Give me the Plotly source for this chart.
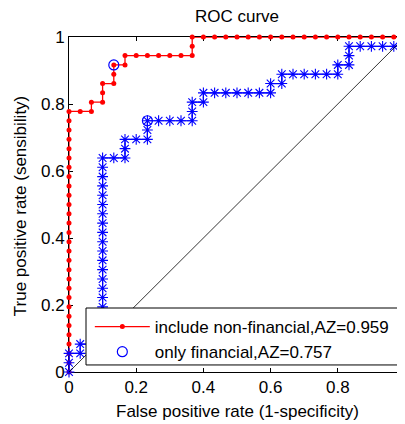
import plotly.graph_objects as go

# Sample sizes (negatives / positives)
N_NEG = 30
N_POS = 36

# ROC "include non-financial" : counts of false positives / true positives per threshold
nf_fp = [0]*29 + [1, 2, 2, 3, 3, 3, 4, 4, 4, 5, 5, 6, 7, 8, 9, 10, 11, 11, 11,
                  12, 13, 14, 15, 16, 17, 18, 19, 20, 21, 22, 23, 24, 25, 26, 27, 28, 29, 30]
nf_tp = [0, 1, 2, 3, 4, 5, 6, 7, 8, 9, 10, 11, 12, 13, 14, 15, 16, 17, 18, 19, 20,
         21, 22, 23, 24, 25, 26, 27, 28,
         28, 28, 29, 29, 30, 31, 31, 32, 33, 33, 34, 34, 34, 34, 34, 34, 34, 35, 36,
         36, 36, 36, 36, 36, 36, 36, 36, 36, 36, 36, 36, 36, 36, 36, 36, 36, 36, 36]

# ROC "only financial"
f_fp = [0, 0, 0, 1, 1, 2,
        3, 3, 3, 3, 3, 3, 3, 3, 3, 3, 3, 3, 3, 3, 3, 3, 3, 3, 3, 3, 3,
        4, 5, 5, 5, 6, 7, 7, 7, 8, 9, 10, 11, 11, 11, 12, 12,
        13, 14, 15, 16, 17, 18, 18, 19, 19, 20, 21, 22, 23, 24, 24, 25, 25, 25,
        26, 27, 28, 29, 30, 30]
f_tp = [0, 1, 2, 2, 3, 3,
        3, 4, 5, 6, 7, 8, 9, 10, 11, 12, 13, 14, 15, 16, 17, 18, 19, 20, 21, 22, 23,
        23, 23, 24, 25, 25, 25, 26, 27, 27, 27, 27, 27, 28, 29, 29, 30,
        30, 30, 30, 30, 30, 30, 31, 31, 32, 32, 32, 32, 32, 32, 33, 33, 34, 35,
        35, 35, 35, 35, 35, 36]

# Optimal operating points (circled)
opt_fp = [4, 7]
opt_tp = [33, 27]

diag_x = [0, 1]
diag_y = [0, 1]

title_text = "ROC curve"
x_title = "False positive rate (1-specificity)"
y_title = "True positive rate (sensibility)"
name_nf = "include non-financial,AZ=0.959"
name_f = "only financial,AZ=0.757"
tick_vals = [0, 0.2, 0.4, 0.6, 0.8, 1]
tick_text = ["0", "0.2", "0.4", "0.6", "0.8", "1"]

FONT = "Arial, Liberation Sans, sans-serif"

# the page body has an 8px margin: size the figure so it lands where the reference is
W, H = 397, 416

fig = go.Figure()

fig.add_trace(go.Scatter(
    x=[v / N_NEG for v in nf_fp], y=[v / N_POS for v in nf_tp],
    mode="lines+markers", name=name_nf, legendrank=1,
    line=dict(color="#ff0000", width=1.3),
    marker=dict(color="#ff0000", size=5, symbol="circle"),
    cliponaxis=False))

fig.add_trace(go.Scatter(
    x=[v / N_NEG for v in f_fp], y=[v / N_POS for v in f_tp],
    mode="lines+markers", showlegend=False,
    line=dict(color="#0000ff", width=1.2),
    marker=dict(color="#0000ff", size=9, symbol="asterisk-open",
                line=dict(color="#0000ff", width=1.1)),
    cliponaxis=False))

fig.add_trace(go.Scatter(
    x=diag_x, y=diag_y, mode="lines", showlegend=False,
    line=dict(color="#000000", width=0.8)))

fig.add_trace(go.Scatter(
    x=[v / N_NEG for v in opt_fp], y=[v / N_POS for v in opt_tp],
    mode="markers", name=name_f, legendrank=2,
    marker=dict(color="#0000ff", size=10, symbol="circle-open",
                line=dict(color="#0000ff", width=1.2)),
    cliponaxis=False))

# legend box (extends past the right edge as in the reference)
fig.add_shape(type="rect", xref="paper", yref="paper",
              x0=0.0506, x1=1.05, y0=0.021, y1=0.191,
              line=dict(color="#000000", width=1), fillcolor="white", layer="above")

fig.update_layout(
    width=W, height=H,
    margin=dict(l=61, r=0, t=29, b=52, autoexpand=False),
    paper_bgcolor="white", plot_bgcolor="white",
    font=dict(family=FONT, size=17, color="#000000"),
    title=dict(text=title_text, x=229 / W, xanchor="center", y=1 - 8 / H,
               yanchor="middle", font=dict(size=17, family=FONT, color="#000000")),
    showlegend=True,
    legend=dict(x=0.062, y=0.188, xanchor="left", yanchor="top",
                bgcolor="rgba(0,0,0,0)", borderwidth=0,
                font=dict(size=17, family=FONT, color="#000000"),
                itemwidth=55, tracegroupgap=4, traceorder="grouped"),
)

fig.update_xaxes(range=[0, 1], tickvals=tick_vals, ticktext=tick_text, automargin=False,
                 showline=True, linecolor="#000000", linewidth=1, mirror="ticks",
                 ticks="inside", ticklen=4, tickcolor="#000000", layer="below traces",
                 showgrid=False, zeroline=False,
                 tickfont=dict(size=17, family=FONT, color="#000000"))
fig.update_yaxes(range=[0, 1], tickvals=tick_vals, ticktext=tick_text, automargin=False,
                 showline=True, linecolor="#000000", linewidth=1, mirror="ticks",
                 ticks="inside", ticklen=4, tickcolor="#000000", layer="below traces",
                 showgrid=False, zeroline=False,
                 tickfont=dict(size=17, family=FONT, color="#000000"))

fig.add_annotation(text=x_title, xref="paper", yref="paper", x=0.5, y=(372 - 411.5) / 335,
                   xanchor="center", yanchor="middle", showarrow=False,
                   font=dict(size=17, family=FONT, color="#000000"))
fig.add_annotation(text=y_title, xref="paper", yref="paper", x=(20 - 69) / 336, y=0.495,
                   xanchor="center", yanchor="middle", showarrow=False, textangle=-90,
                   font=dict(size=17, family=FONT, color="#000000"))

fig.write_html("out.html")
